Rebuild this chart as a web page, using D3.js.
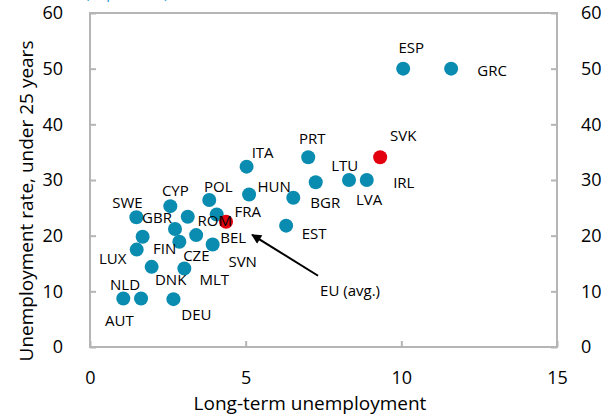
<!DOCTYPE html>
<html>
<head>
<meta charset="utf-8">
<script src="https://cdn.jsdelivr.net/npm/d3@7"></script>
<style>
  body { margin: 0; background: #fff; }
  text { font-family: "Open Sans", "Noto Sans", sans-serif; fill: #000; }
</style>
</head>
<body>
<div class="svg-container"></div>
<script>
// Data: long-term unemployment (x) vs youth unemployment (y)
const countries = ['ESP','GRC','PRT','SVK','IRL','LVA','LTU','BGR','EST','ITA','HUN','POL','CYP','SWE',
                   'ROM','GBR','FRA','EU (avg.)','FIN','BEL','CZE','SVN','LUX','DNK','MLT','AUT','NLD','DEU'];
const longTerm = [10.06, 11.6, 7.01, 9.32, 8.89, 8.32, 7.25, 6.53, 6.30, 5.03, 5.11, 3.83, 2.58, 1.49,
                  3.14, 2.73, 4.07, 4.37, 1.69, 3.41, 2.87, 3.94, 1.50, 1.98, 3.03, 1.07, 1.64, 2.68];
const youth = [50.0, 50.0, 34.1, 34.1, 30.0, 30.0, 29.6, 26.8, 21.8, 32.4, 27.4, 26.4, 25.3, 23.3,
               23.4, 21.2, 23.8, 22.5, 19.8, 20.1, 18.9, 18.4, 17.5, 14.4, 14.1, 8.7, 8.7, 8.6];
const highlighted = ['SVK', 'EU (avg.)'];
const xTicks = [0, 5, 10, 15];
const yTicks = [0, 10, 20, 30, 40, 50, 60];

// label placement (pixel offset of label centre from its dot)
const labelOffset = {
  'ESP': [8, -21], 'GRC': [41, 2], 'PRT': [4, -18], 'SVK': [23, -21], 'IRL': [37, 3],
  'LVA': [20, 20], 'LTU': [29, -16], 'BGR': [32, 5], 'EST': [28, 8], 'ITA': [16, -14],
  'HUN': [25, -8], 'POL': [9, -13], 'CYP': [5, -15], 'SWE': [-9, -15], 'ROM': [27, 4],
  'GBR': [-18, -11], 'FRA': [31, -3], 'EU (avg.)': [124, 69], 'FIN': [22, 12], 'BEL': [37, 3],
  'CZE': [17, 14], 'SVN': [30, 17], 'LUX': [-24, 9], 'DNK': [19, 13], 'MLT': [30, 11],
  'AUT': [-4, 22], 'NLD': [-16, -14], 'DEU': [23, 16]
};

const data = countries.map((c, i) => ({name: c, x: longTerm[i], y: youth[i]}));

const margin = {top: 13, right: 50, bottom: 69, left: 90};
const width = 607 - margin.left - margin.right;
const height = 416 - margin.top - margin.bottom;

const svg = d3.select('.svg-container')
  .append('svg')
  .attr('width', 607)
  .attr('height', 416);

svg.append('defs').append('marker')
  .attr('id', 'arrow')
  .attr('viewBox', '0 0 10 10')
  .attr('refX', 9).attr('refY', 5)
  .attr('markerWidth', 13).attr('markerHeight', 10)
  .attr('markerUnits', 'userSpaceOnUse')
  .attr('orient', 'auto')
  .append('path')
  .attr('d', 'M0,0 L10,5 L0,10 z')
  .attr('fill', '#000');

// cut-off subtitle at the very top
svg.append('text')
  .attr('x', 85).attr('y', -2)
  .style('font-size', '15px')
  .style('fill', '#1a9ad6')
  .text('(in per cent)');

const g = svg.append('g')
  .attr('transform', `translate(${margin.left}, ${margin.top})`);

const x = d3.scaleLinear().domain([0, 15]).range([0, width]);
const y = d3.scaleLinear().domain([0, 60]).range([height, 0]);

// frame
g.append('rect')
  .attr('width', width).attr('height', height)
  .attr('fill', 'none')
  .attr('stroke', '#b5b5b5')
  .attr('stroke-width', 2);

function styleAxis(sel) {
  sel.select('.domain').remove();
  sel.selectAll('.tick line').attr('stroke', '#b5b5b5').attr('stroke-width', 2);
  sel.selectAll('.tick text').style('font-size', '18px').attr('fill', '#000');
}

g.append('g')
  .attr('transform', `translate(0, ${height})`)
  .call(d3.axisBottom(x).tickValues(xTicks).tickSize(-6).tickPadding(24))
  .call(styleAxis);

g.append('g')
  .call(d3.axisLeft(y).tickValues(yTicks).tickSize(-6).tickPadding(27))
  .call(styleAxis);

g.append('g')
  .attr('transform', `translate(${width}, 0)`)
  .call(d3.axisRight(y).tickValues(yTicks).tickSize(-6).tickPadding(24))
  .call(styleAxis);

// arrow from EU label to the EU point area
const eu = data.find(d => d.name === 'EU (avg.)');
g.append('line')
  .attr('x1', x(eu.x) + 92).attr('y1', y(eu.y) + 54)
  .attr('x2', x(eu.x) + 26).attr('y2', y(eu.y) + 13)
  .attr('stroke', '#000')
  .attr('stroke-width', 2)
  .attr('marker-end', 'url(#arrow)');

// points
g.selectAll('.dot')
  .data(data)
  .enter().append('circle')
  .attr('class', 'dot')
  .attr('cx', d => x(d.x))
  .attr('cy', d => y(d.y))
  .attr('r', 7)
  .attr('fill', d => highlighted.includes(d.name) ? '#e3000f' : '#0a8cb0');

// labels
g.selectAll('.label')
  .data(data)
  .enter().append('text')
  .attr('class', 'label')
  .attr('x', d => x(d.x) + labelOffset[d.name][0])
  .attr('y', d => y(d.y) + labelOffset[d.name][1])
  .attr('dy', '0.35em')
  .attr('text-anchor', 'middle')
  .style('font-size', '15px')
  .text(d => d.name);

// axis titles
svg.append('text')
  .attr('x', 310).attr('y', 410)
  .attr('text-anchor', 'middle')
  .style('font-size', '19px')
  .text('Long-term unemployment');

svg.append('text')
  .attr('transform', 'translate(33, 201) rotate(-90)')
  .attr('text-anchor', 'middle')
  .style('font-size', '19px')
  .text('Unemployment rate, under 25 years');
</script>
</body>
</html>
